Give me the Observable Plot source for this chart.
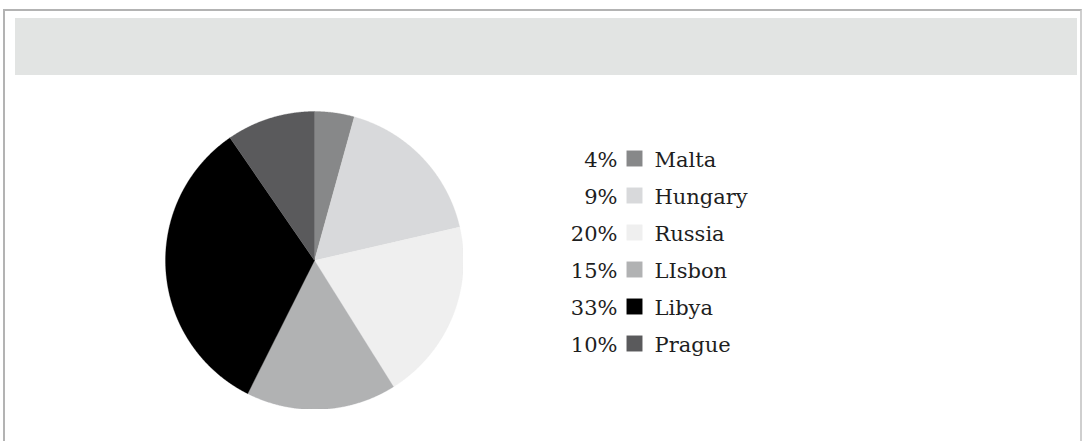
<!DOCTYPE html>
<html>
<head>
<meta charset="utf-8">
<script src="https://cdn.jsdelivr.net/npm/d3@7"></script>
<script src="https://cdn.jsdelivr.net/npm/@observablehq/plot@0.6"></script>
<style>
  html, body { margin: 0; padding: 0; background: #fff; }
  #page { position: relative; width: 1085px; height: 441px; overflow: hidden; }
  #frame { position: absolute; left: 3px; top: 9px; width: 1079px; height: 460px;
           border-top: 2px solid #b3b3b3; border-left: 2px solid #b3b3b3; border-right: 2px solid #cfcfcf; box-sizing: border-box; }
  #header { position: absolute; left: 15px; top: 18px; width: 1062px; height: 57px; background: #e2e4e3; }
  #pie { position: absolute; left: 165px; top: 111px; }
  #legend { position: absolute; left: 560px; top: 130px; }
</style>
</head>
<body>
<div id="page">
  <div id="frame"></div>
  <div id="header"></div>
  <div id="pie"></div>
  <div id="legend"></div>
</div>
<script>
// Data
const names = ["Malta", "Hungary", "Russia", "LIsbon", "Libya", "Prague"];
const values = [4.3, 17.1, 19.7, 16.3, 33.0, 9.6];          // slice sizes as drawn
const pctLabels = ["4%", "9%", "20%", "15%", "33%", "10%"];  // legend labels as printed
const colors = ["#878889", "#d8d9db", "#efefef", "#b1b2b3", "#000000", "#5a5a5c"];

// Build slice outlines (unit circle, clockwise from 12 o'clock) from the values
const arcs = d3.pie().sort(null).startAngle(0).endAngle(2 * Math.PI)(values);
const slices = arcs.map((a, i) => {
  const pts = [{x: 0, y: 0}];
  const n = Math.max(2, Math.ceil((a.endAngle - a.startAngle) / 0.005));
  for (let k = 0; k <= n; k++) {
    const t = a.startAngle + (a.endAngle - a.startAngle) * k / n;
    pts.push({x: Math.sin(t), y: Math.cos(t)});
  }
  pts.push({x: 0, y: 0});
  return {name: names[i], color: colors[i], pts};
});

const size = 298;
const pie = Plot.plot({
  width: size, height: size,
  margin: 0,
  x: {domain: [-1, 1], axis: null},
  y: {domain: [-1, 1], axis: null},
  marks: slices.map(s => Plot.line(s.pts, {x: "x", y: "y", fill: s.color, stroke: s.color, strokeWidth: 0.3, curve: "linear"}))
});
pie.style.background = "transparent";
document.getElementById("pie").appendChild(pie);

const rows = names.map((n, i) => ({name: n, pct: pctLabels[i], color: colors[i]}));
const fs = 21;
const legend = Plot.plot({
  width: 220, height: 240,
  margin: 0,
  y: {type: "point", domain: names, range: [26.5, 215], padding: 0, axis: null},
  style: {fontFamily: "'DejaVu Serif', serif", fontSize: fs + "px", color: "#1e1e1e", background: "transparent"},
  marks: [
    Plot.text(rows, {frameAnchor: "left", y: "name", text: "pct", textAnchor: "end", fontSize: fs, fill: "#1e1e1e", dx: 57, dy: 2}),
    Plot.dot(rows, {frameAnchor: "left", y: "name", symbol: "square", r: 9, fill: "color", stroke: null, dx: 74}),
    Plot.text(rows, {frameAnchor: "left", y: "name", text: "name", textAnchor: "start", fontSize: fs, fill: "#1e1e1e", dx: 94, dy: 2})
  ]
});
document.getElementById("legend").appendChild(legend);
</script>
</body>
</html>
